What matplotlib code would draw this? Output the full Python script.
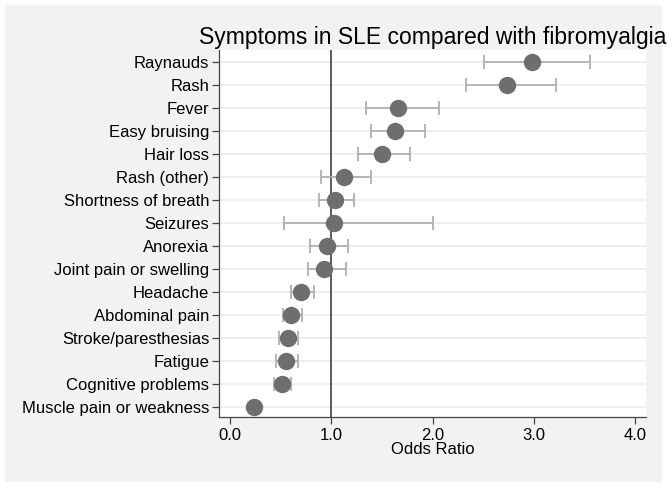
import matplotlib.pyplot as plt
from matplotlib.patches import Rectangle

plt.rcParams['font.family'] = ['Liberation Sans', 'DejaVu Sans']

# symptoms listed top to bottom as in the chart
symptoms = ["Raynauds", "Rash", "Fever", "Easy bruising", "Hair loss",
            "Rash (other)", "Shortness of breath", "Seizures", "Anorexia",
            "Joint pain or swelling", "Headache", "Abdominal pain",
            "Stroke/paresthesias", "Fatigue", "Cognitive problems",
            "Muscle pain or weakness"]
odds_ratio = [2.98, 2.73, 1.66, 1.63, 1.50, 1.12, 1.04, 1.03, 0.96, 0.93,
              0.70, 0.60, 0.57, 0.55, 0.51, 0.24]
ci_low = [2.51, 2.33, 1.34, 1.39, 1.26, 0.90, 0.88, 0.53, 0.79, 0.77,
          0.60, 0.52, 0.48, 0.45, 0.43, 0.21]
ci_high = [3.55, 3.22, 2.06, 1.92, 1.78, 1.39, 1.22, 2.00, 1.16, 1.14,
           0.83, 0.71, 0.67, 0.67, 0.60, 0.28]
x_ticks = [0.0, 1.0, 2.0, 3.0, 4.0]

n = len(symptoms)
ypos = [n - 1 - i for i in range(n)]

fig = plt.figure(figsize=(6.72, 4.88), dpi=100, facecolor='white')
fig.patches.append(Rectangle((5 / 672, 1 - 482 / 488), 657 / 672, 477 / 488,
                             transform=fig.transFigure, facecolor='#f2f2f2',
                             edgecolor='none', zorder=-10))
ax = fig.add_axes([219 / 672, 1 - 417.3 / 488, 427 / 672, 367.3 / 488])
ax.set_facecolor('white')

for y in ypos:
    ax.axhline(y, color='#ebebeb', linewidth=1.2, zorder=1)
ax.axvline(1.0, color='#5a5a5a', linewidth=1.4, zorder=2)

err_lo = [o - l for o, l in zip(odds_ratio, ci_low)]
err_hi = [h - o for o, h in zip(odds_ratio, ci_high)]
ax.errorbar(odds_ratio, ypos, xerr=[err_lo, err_hi], fmt='none',
            ecolor='#b0b0b0', elinewidth=1.3, capsize=5, capthick=1.3, zorder=3)
ax.plot(odds_ratio, ypos, 'o', color='#6e6e6e', markersize=11.5, zorder=4)

ax.set_xlim(-0.11, 4.107)
ax.set_ylim(-0.45, n - 0.5)
ax.set_xticks(x_ticks)
ax.set_xticklabels([f"{t:.1f}" for t in x_ticks])
ax.set_yticks(ypos)
ax.set_yticklabels(symptoms)
ax.tick_params(axis='both', labelsize=12, color='#444444', length=5, width=0.9)
ax.tick_params(axis='y', pad=2)
ax.tick_params(axis='x', pad=3)
for s in ['top', 'right']:
    ax.spines[s].set_visible(False)
for s in ['left', 'bottom']:
    ax.spines[s].set_color('#444444')
    ax.spines[s].set_linewidth(0.9)

ax.set_xlabel('Odds Ratio', fontsize=12, labelpad=-1)
ax.set_title('Symptoms in SLE compared with fibromyalgia', fontsize=16.5, pad=4)

fig.savefig('out.png', dpi=100, facecolor='white')
